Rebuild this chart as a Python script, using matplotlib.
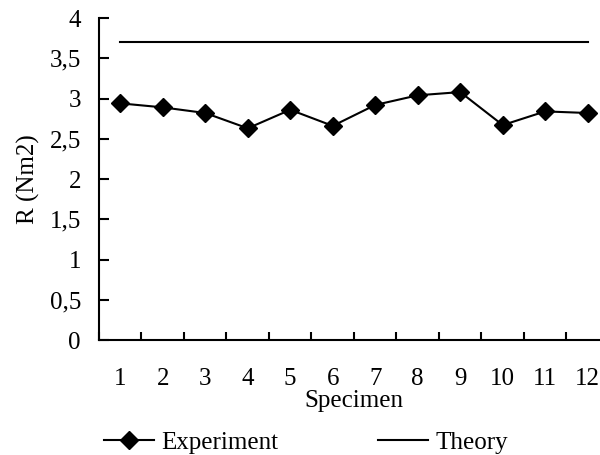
import matplotlib
matplotlib.use("Agg")
import matplotlib.pyplot as plt
import numpy as np
from matplotlib.ticker import FixedLocator, FuncFormatter

# data
specimens = list(range(1, 13))
experiment = [2.94, 2.89, 2.82, 2.63, 2.86, 2.66, 2.92, 3.04, 3.08, 2.67, 2.84, 2.82]
theory = [3.7] * 12
y_ticks = [0, 0.5, 1, 1.5, 2, 2.5, 3, 3.5, 4]

plt.rcParams['font.family'] = ['Liberation Serif', 'DejaVu Serif']
plt.rcParams['font.size'] = 18

fig = plt.figure(figsize=(6, 4.55), dpi=100)
ax = fig.add_axes([0.165, 0.2527, 0.85, 0.7077])

ax.plot(specimens, experiment, color='black', linewidth=1.5, marker='D',
        markersize=9, label='Experiment')
ax.plot(specimens, theory, color='black', linewidth=1.5, label='Theory')

ax.set_xlim(0.5, 12.5)
ax.set_ylim(0, 4)

ax.spines['top'].set_visible(False)
ax.spines['right'].set_visible(False)
for s in ('left', 'bottom'):
    ax.spines[s].set_linewidth(1.5)

ax.set_yticks(y_ticks)
ax.yaxis.set_major_formatter(FuncFormatter(lambda v, p: ('%g' % v).replace('.', ',')))
ax.tick_params(axis='y', direction='in', length=7, width=1.5, pad=13)

ax.set_xticks(specimens)
ax.xaxis.set_minor_locator(FixedLocator(np.arange(0.5, 13, 1.0)))
ax.tick_params(axis='x', which='major', length=0, pad=20)
ax.tick_params(axis='x', which='minor', direction='in', length=6, width=1.5)

ax.set_xlabel('Specimen', labelpad=0)
ax.set_ylabel('R (Nm2)', labelpad=7)

fig.legend(loc='center', bbox_to_anchor=(0.51, 0.027), ncol=2, frameon=False,
           handlelength=2.0, handletextpad=0.3, columnspacing=4.0,
           borderpad=0, borderaxespad=0)

fig.savefig('out.png', dpi=100)
